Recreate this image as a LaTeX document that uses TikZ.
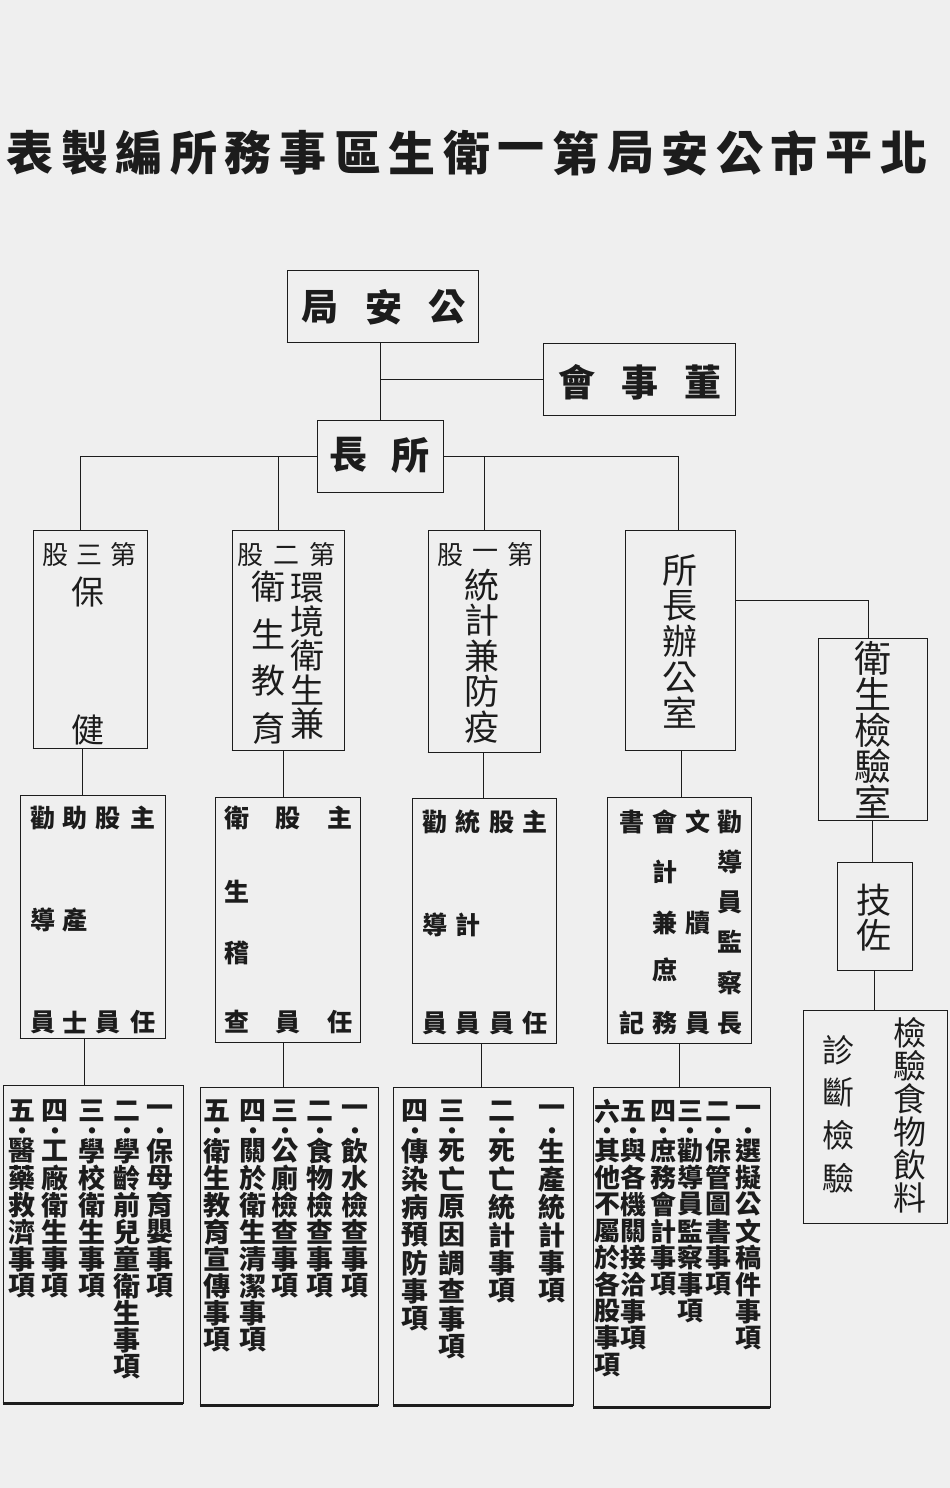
\documentclass[tikz,border=0pt]{standalone}
\usepackage{fontspec}
\setmainfont{Noto Sans CJK TC}

\definecolor{paper}{RGB}{239,239,239}
\definecolor{ink}{RGB}{28,28,28}

\tikzset{
  box/.style 2 args={draw=ink, line width=0.8pt, inner sep=0pt, minimum width=#1, minimum height=#2},
  link/.style={draw=ink, line width=0.8pt},
  ch/.style={inner sep=0pt, text=ink, font=\fontsize{#1}{#1}\selectfont},
  bch/.style={inner sep=0pt, text=ink, font=\bfseries\fontsize{#1}{#1}\selectfont},
}

% characters in a row: name, x of first, y, pitch, style, chars
\newcommand\hchars[6]{%
  \foreach \c [count=\i from 0] in {#6}
    \node[#5] (#1-\i) at (#2+#4*\i,#3) {\c};}
% characters in a column with a fixed pitch
\newcommand\vchars[6]{%
  \foreach \c [count=\i from 0] in {#6}
    \node[#5] (#1-\i) at (#2,#3+#4*\i) {\c};}
% characters in a column, each at its own height
\newcommand\pchars[4]{%
  \foreach \c/\y [count=\i] in {#4}
    \node[#3] (#1-\i) at (#2,\y) {\c};}
% one numbered duty: name, x, pitch, style, numeral, chars
\newcommand\dutycol[6]{%
  \node[#4] (#1-n) at (#2,1111) {#5};
  \node[bch=7] (#1-d) at (#2,1130.5) {●};
  \vchars{#1}{#2}{1151}{#3}{#4}{#6}}

\begin{document}
\begin{tikzpicture}[x=1pt, y=-1pt]
\fill[paper] (0,0) rectangle (950,1488);
\useasboundingbox (0,0) rectangle (950,1488);

% title
\hchars{title}{30}{153}{54.6}{bch=47}{表,製,編,所,務,事,區,生,衛,一,第,局,安,公,市,平,北}

% boxes
\node[box={191pt}{72pt}]  (hq)      at (382.5,306)  {};
\node[box={192pt}{72pt}]  (board)   at (639,379)    {};
\node[box={126pt}{72pt}]  (chief)   at (380,456)    {};
\node[box={114pt}{218pt}] (sec3)    at (90,639)     {};
\node[box={112pt}{220pt}] (sec2)    at (288,640)    {};
\node[box={112pt}{222pt}] (sec1)    at (484,641)    {};
\node[box={110pt}{220pt}] (office)  at (680,640)    {};
\node[box={109pt}{182pt}] (lab)     at (872.5,729)  {};
\node[box={145pt}{243pt}] (staff3)  at (92.5,916.5) {};
\node[box={145pt}{245pt}] (staff2)  at (287.5,919.5){};
\node[box={144pt}{245pt}] (staff1)  at (484,920.5)  {};
\node[box={144pt}{246pt}] (staffo)  at (679,920)    {};
\node[box={75pt}{108pt}]  (tech)    at (874.5,916)  {};
\node[box={144pt}{213pt}] (labduty) at (875,1116.5) {};
\node[box={180pt}{318pt}] (duty3)   at (93,1244)    {};
\node[box={178pt}{318pt}] (duty2)   at (289,1246)   {};
\node[box={180pt}{318pt}] (duty1)   at (483,1246)   {};
\node[box={177pt}{320pt}] (dutyo)   at (681.5,1247) {};

% heavier bottom edges
\foreach \b in {hq,board,chief,sec3,sec2,sec1,office,lab,staff3,staff2,staff1,staffo,tech,labduty}
  \draw[line width=1.5pt, ink] (\b.south west) -- (\b.south east);
\foreach \b in {duty3,duty2,duty1,dutyo}
  \draw[line width=2.2pt, ink] (\b.south west) -- (\b.south east);

% connectors
\draw[link] (chief.north) -- (chief.north |- hq.south);
\draw[link] (board.west) -- (board.west -| chief.north);
\draw[link] (chief.west) -| ([xshift=-10pt]sec3.north);
\draw[link] ([xshift=-10pt]sec2.north) -- ([xshift=-10pt]sec2.north |- chief.west);
\draw[link] (sec1.north) -- (sec1.north |- chief.east);
\draw[link] (chief.east) -| ([xshift=-2pt]office.north);
\draw[link] ([yshift=40pt]office.east) -| ([xshift=-4pt]lab.north);
\draw[link] (lab.south) -- (lab.south |- tech.north);
\draw[link] (tech.south) -- (tech.south |- labduty.north);
\foreach \a/\b/\s in {sec3/staff3/-8, sec2/staff2/-5, sec1/staff1/-1, office/staffo/1}
  \draw[link] ([xshift=\s pt]\a.south) -- ([xshift=\s pt]\a.south |- \b.north);
\foreach \a/\b/\s in {staff3/duty3/-8.5, staff2/duty2/-4.5, staff1/duty1/-3, staffo/dutyo/0}
  \draw[link] ([xshift=\s pt]\a.south) -- ([xshift=\s pt]\a.south |- \b.north);

% top boxes
\hchars{hqt}{320}{307}{63.5}{bch=37}{局,安,公}
\hchars{bdt}{577}{382}{63}{bch=37}{會,事,董}
\hchars{cht}{348}{455}{62}{bch=38}{長,所}

% sections
\hchars{s3h}{55}{555}{34}{ch=26}{股,三,第}
\pchars{s3c}{88}{ch=33}{保/592,健/730}
\hchars{s2h}{250}{555}{36}{ch=26}{股,二,第}
\vchars{s2r}{307}{588}{34}{ch=34}{環,境,衛,生,兼}
\vchars{s2l}{268}{587}{47}{ch=34}{衛,生,教,育}
\hchars{s1h}{450}{555}{35}{ch=26}{股,一,第}
\vchars{s1c}{482}{585}{35.5}{ch=35}{統,計,兼,防,疫}
\vchars{ofc}{680}{570}{35.7}{ch=35}{所,長,辦,公,室}
\vchars{labc}{873}{658}{36}{ch=37}{衛,生,檢,驗,室}

% staff
\pchars{st3a}{143}{bch=25}{主/818,任/1022}
\pchars{st3b}{108}{bch=25}{股/818,員/1022}
\pchars{st3c}{75}{bch=25}{助/818,產/920,士/1022}
\pchars{st3d}{43}{bch=25}{勸/818,導/920,員/1022}
\pchars{st2a}{340}{bch=25}{主/818,任/1022}
\pchars{st2b}{288}{bch=25}{股/818,員/1022}
\pchars{st2c}{237}{bch=25}{衛/818,生/892,稽/953,查/1022}
\pchars{st1a}{535}{bch=25}{主/822,任/1023}
\pchars{st1b}{502}{bch=25}{股/822,員/1023}
\pchars{st1c}{468}{bch=25}{統/822,計/925,員/1023}
\pchars{st1d}{435}{bch=25}{勸/822,導/925,員/1023}
\pchars{stoa}{730}{bch=25}{勸/822,導/862,員/902,監/942,察/983,長/1023}
\pchars{stob}{698}{bch=25}{文/822,牘/923,員/1023}
\pchars{stoc}{665}{bch=25}{會/822,計/872,兼/923,庶/970,務/1023}
\pchars{stod}{632}{bch=25}{書/822,記/1023}
\pchars{tcc}{874}{ch=35}{技/900,佐/935}
\vchars{ldr}{910}{1033}{33}{ch=33}{檢,驗,食,物,飲,料}
\vchars{ldl}{838}{1050}{42.7}{ch=32}{診,斷,檢,驗}

% duties
\dutycol{d3a}{160}{27}{bch=27}{一}{保,母,育,嬰,事,項}
\dutycol{d3b}{127}{27}{bch=27}{二}{學,齡,前,兒,童,衛,生,事,項}
\dutycol{d3c}{92}{27}{bch=27}{三}{學,校,衛,生,事,項}
\dutycol{d3d}{55}{27}{bch=27}{四}{工,廠,衛,生,事,項}
\dutycol{d3e}{22}{27}{bch=27}{五}{醫,藥,救,濟,事,項}
\dutycol{d2a}{355}{27}{bch=27}{一}{飲,水,檢,查,事,項}
\dutycol{d2b}{320}{27}{bch=27}{二}{食,物,檢,查,事,項}
\dutycol{d2c}{285}{27}{bch=27}{三}{公,廁,檢,查,事,項}
\dutycol{d2d}{253}{27}{bch=27}{四}{關,於,衛,生,清,潔,事,項}
\dutycol{d2e}{217}{27}{bch=27}{五}{衛,生,教,育,宣,傳,事,項}
\dutycol{d1a}{552}{28}{bch=27}{一}{生,產,統,計,事,項}
\dutycol{d1b}{502}{28}{bch=27}{二}{死,亡,統,計,事,項}
\dutycol{d1c}{452}{28}{bch=27}{三}{死,亡,原,因,調,查,事,項}
\dutycol{d1d}{415}{28}{bch=27}{四}{傳,染,病,預,防,事,項}
\dutycol{doa}{748}{26.7}{bch=26}{一}{選,擬,公,文,稿,件,事,項}
\dutycol{dob}{718}{26.7}{bch=26}{二}{保,管,圖,書,事,項}
\dutycol{doc}{690}{26.7}{bch=26}{三}{勸,導,員,監,察,事,項}
\dutycol{dod}{663}{26.7}{bch=26}{四}{庶,務,會,計,事,項}
\dutycol{doe}{633}{26.7}{bch=26}{五}{與,各,機,關,接,洽,事,項}
\dutycol{dof}{607}{26.7}{bch=26}{六}{其,他,不,屬,於,各,股,事,項}
\end{tikzpicture}
\end{document}
